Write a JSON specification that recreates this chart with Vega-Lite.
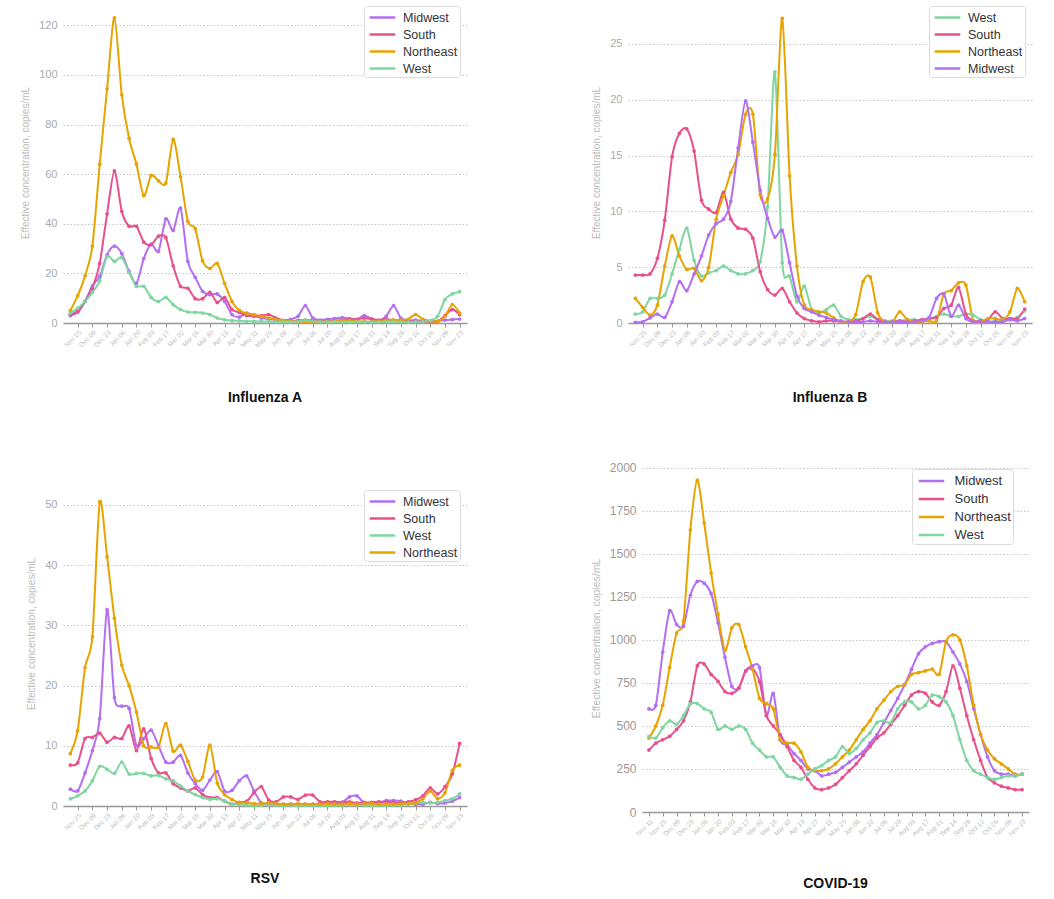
{
"$schema": "https://vega.github.io/schema/vega-lite/v6.json",
"background": "white",
"padding": {"left": 20, "top": 2, "right": 5, "bottom": 5},
"config": {"view": {"stroke": null}, "font": "Liberation Sans"},
"columns": 2,
"align": "none",
"spacing": {"row": 56, "column": 124},
"resolve": {"scale": {"color": "independent", "x": "independent", "y": "independent"}, "legend": {"color": "independent"}},
"datasets": {
"infA": [
{"date":"2023-11-18","region":"Midwest","value":3},{"date":"2023-11-25","region":"Midwest","value":4.3},{"date":"2023-12-02","region":"Midwest","value":8.7},{"date":"2023-12-09","region":"Midwest","value":15},{"date":"2023-12-16","region":"Midwest","value":18.8},{"date":"2023-12-23","region":"Midwest","value":27.5},{"date":"2023-12-30","region":"Midwest","value":31},{"date":"2024-01-06","region":"Midwest","value":28},{"date":"2024-01-13","region":"Midwest","value":20.8},{"date":"2024-01-20","region":"Midwest","value":16},{"date":"2024-01-27","region":"Midwest","value":26},{"date":"2024-02-03","region":"Midwest","value":31.8},{"date":"2024-02-10","region":"Midwest","value":28.9},{"date":"2024-02-17","region":"Midwest","value":42},{"date":"2024-02-24","region":"Midwest","value":37.3},{"date":"2024-03-02","region":"Midwest","value":46.3},{"date":"2024-03-09","region":"Midwest","value":24.8},{"date":"2024-03-16","region":"Midwest","value":18.4},{"date":"2024-03-23","region":"Midwest","value":12.8},{"date":"2024-03-30","region":"Midwest","value":11.4},{"date":"2024-04-06","region":"Midwest","value":11.7},{"date":"2024-04-13","region":"Midwest","value":8.7},{"date":"2024-04-20","region":"Midwest","value":3.4},{"date":"2024-04-27","region":"Midwest","value":2.4},{"date":"2024-05-04","region":"Midwest","value":4},{"date":"2024-05-11","region":"Midwest","value":3},{"date":"2024-05-18","region":"Midwest","value":2},{"date":"2024-05-25","region":"Midwest","value":1.6},{"date":"2024-06-01","region":"Midwest","value":1.2},{"date":"2024-06-08","region":"Midwest","value":1.0},{"date":"2024-06-15","region":"Midwest","value":1.5},{"date":"2024-06-22","region":"Midwest","value":2.7},{"date":"2024-06-29","region":"Midwest","value":7},{"date":"2024-07-06","region":"Midwest","value":2},{"date":"2024-07-13","region":"Midwest","value":1.2},{"date":"2024-07-20","region":"Midwest","value":1.5},{"date":"2024-07-27","region":"Midwest","value":1.8},{"date":"2024-08-03","region":"Midwest","value":2.2},{"date":"2024-08-10","region":"Midwest","value":1.8},{"date":"2024-08-17","region":"Midwest","value":1.5},{"date":"2024-08-24","region":"Midwest","value":3},{"date":"2024-08-31","region":"Midwest","value":1.8},{"date":"2024-09-07","region":"Midwest","value":1},{"date":"2024-09-14","region":"Midwest","value":2.7},{"date":"2024-09-21","region":"Midwest","value":7},{"date":"2024-09-28","region":"Midwest","value":2},{"date":"2024-10-05","region":"Midwest","value":1},{"date":"2024-10-12","region":"Midwest","value":1.2},{"date":"2024-10-19","region":"Midwest","value":0.8},{"date":"2024-10-26","region":"Midwest","value":0.6},{"date":"2024-11-02","region":"Midwest","value":0.8},{"date":"2024-11-09","region":"Midwest","value":1.2},{"date":"2024-11-16","region":"Midwest","value":1.4},{"date":"2024-11-23","region":"Midwest","value":1.6},
{"date":"2023-11-18","region":"South","value":3.4},{"date":"2023-11-25","region":"South","value":4.7},{"date":"2023-12-02","region":"South","value":8.7},{"date":"2023-12-09","region":"South","value":14},{"date":"2023-12-16","region":"South","value":24},{"date":"2023-12-23","region":"South","value":44},{"date":"2023-12-30","region":"South","value":61.3},{"date":"2024-01-06","region":"South","value":45},{"date":"2024-01-13","region":"South","value":39},{"date":"2024-01-20","region":"South","value":39},{"date":"2024-01-27","region":"South","value":32.6},{"date":"2024-02-03","region":"South","value":31.5},{"date":"2024-02-10","region":"South","value":35},{"date":"2024-02-17","region":"South","value":34.5},{"date":"2024-02-24","region":"South","value":23},{"date":"2024-03-02","region":"South","value":14.8},{"date":"2024-03-09","region":"South","value":14},{"date":"2024-03-16","region":"South","value":9.8},{"date":"2024-03-23","region":"South","value":9.8},{"date":"2024-03-30","region":"South","value":12.3},{"date":"2024-04-06","region":"South","value":8.3},{"date":"2024-04-13","region":"South","value":10.3},{"date":"2024-04-20","region":"South","value":5.4},{"date":"2024-04-27","region":"South","value":4.3},{"date":"2024-05-04","region":"South","value":3},{"date":"2024-05-11","region":"South","value":2.7},{"date":"2024-05-18","region":"South","value":3},{"date":"2024-05-25","region":"South","value":3.4},{"date":"2024-06-01","region":"South","value":2},{"date":"2024-06-08","region":"South","value":1},{"date":"2024-06-15","region":"South","value":0.8},{"date":"2024-06-22","region":"South","value":1},{"date":"2024-06-29","region":"South","value":1.2},{"date":"2024-07-06","region":"South","value":1},{"date":"2024-07-13","region":"South","value":0.8},{"date":"2024-07-20","region":"South","value":0.8},{"date":"2024-07-27","region":"South","value":1},{"date":"2024-08-03","region":"South","value":1.2},{"date":"2024-08-10","region":"South","value":1.5},{"date":"2024-08-17","region":"South","value":1.5},{"date":"2024-08-24","region":"South","value":2},{"date":"2024-08-31","region":"South","value":1.5},{"date":"2024-09-07","region":"South","value":1.2},{"date":"2024-09-14","region":"South","value":1.5},{"date":"2024-09-21","region":"South","value":1.2},{"date":"2024-09-28","region":"South","value":1},{"date":"2024-10-05","region":"South","value":0.8},{"date":"2024-10-12","region":"South","value":0.6},{"date":"2024-10-19","region":"South","value":0.6},{"date":"2024-10-26","region":"South","value":0.5},{"date":"2024-11-02","region":"South","value":0.6},{"date":"2024-11-09","region":"South","value":3},{"date":"2024-11-16","region":"South","value":5.4},{"date":"2024-11-23","region":"South","value":3.4},
{"date":"2023-11-18","region":"Northeast","value":5},{"date":"2023-11-25","region":"Northeast","value":11},{"date":"2023-12-02","region":"Northeast","value":19},{"date":"2023-12-09","region":"Northeast","value":31},{"date":"2023-12-16","region":"Northeast","value":64},{"date":"2023-12-23","region":"Northeast","value":94.4},{"date":"2023-12-30","region":"Northeast","value":123},{"date":"2024-01-06","region":"Northeast","value":92},{"date":"2024-01-13","region":"Northeast","value":74.4},{"date":"2024-01-20","region":"Northeast","value":64},{"date":"2024-01-27","region":"Northeast","value":51.3},{"date":"2024-02-03","region":"Northeast","value":59.5},{"date":"2024-02-10","region":"Northeast","value":57.3},{"date":"2024-02-17","region":"Northeast","value":56.4},{"date":"2024-02-24","region":"Northeast","value":74},{"date":"2024-03-02","region":"Northeast","value":59},{"date":"2024-03-09","region":"Northeast","value":41},{"date":"2024-03-16","region":"Northeast","value":38},{"date":"2024-03-23","region":"Northeast","value":25},{"date":"2024-03-30","region":"Northeast","value":22},{"date":"2024-04-06","region":"Northeast","value":24},{"date":"2024-04-13","region":"Northeast","value":16},{"date":"2024-04-20","region":"Northeast","value":8.7},{"date":"2024-04-27","region":"Northeast","value":5.1},{"date":"2024-05-04","region":"Northeast","value":3.8},{"date":"2024-05-11","region":"Northeast","value":3.4},{"date":"2024-05-18","region":"Northeast","value":2.7},{"date":"2024-05-25","region":"Northeast","value":2},{"date":"2024-06-01","region":"Northeast","value":1.5},{"date":"2024-06-08","region":"Northeast","value":1},{"date":"2024-06-15","region":"Northeast","value":0.8},{"date":"2024-06-22","region":"Northeast","value":0.6},{"date":"2024-06-29","region":"Northeast","value":0.5},{"date":"2024-07-06","region":"Northeast","value":0.5},{"date":"2024-07-13","region":"Northeast","value":0.5},{"date":"2024-07-20","region":"Northeast","value":0.6},{"date":"2024-07-27","region":"Northeast","value":0.8},{"date":"2024-08-03","region":"Northeast","value":1},{"date":"2024-08-10","region":"Northeast","value":1},{"date":"2024-08-17","region":"Northeast","value":0.8},{"date":"2024-08-24","region":"Northeast","value":0.6},{"date":"2024-08-31","region":"Northeast","value":0.5},{"date":"2024-09-07","region":"Northeast","value":0.8},{"date":"2024-09-14","region":"Northeast","value":1},{"date":"2024-09-21","region":"Northeast","value":1.2},{"date":"2024-09-28","region":"Northeast","value":1.2},{"date":"2024-10-05","region":"Northeast","value":1.5},{"date":"2024-10-12","region":"Northeast","value":3.4},{"date":"2024-10-19","region":"Northeast","value":1.5},{"date":"2024-10-26","region":"Northeast","value":0.8},{"date":"2024-11-02","region":"Northeast","value":0.6},{"date":"2024-11-09","region":"Northeast","value":2.7},{"date":"2024-11-16","region":"Northeast","value":7.4},{"date":"2024-11-23","region":"Northeast","value":4},
{"date":"2023-11-18","region":"West","value":4},{"date":"2023-11-25","region":"West","value":6},{"date":"2023-12-02","region":"West","value":8.7},{"date":"2023-12-09","region":"West","value":12.3},{"date":"2023-12-16","region":"West","value":17},{"date":"2023-12-23","region":"West","value":26.8},{"date":"2023-12-30","region":"West","value":24.8},{"date":"2024-01-06","region":"West","value":26.4},{"date":"2024-01-13","region":"West","value":20.4},{"date":"2024-01-20","region":"West","value":14.8},{"date":"2024-01-27","region":"West","value":14.8},{"date":"2024-02-03","region":"West","value":10.3},{"date":"2024-02-10","region":"West","value":8.7},{"date":"2024-02-17","region":"West","value":10.3},{"date":"2024-02-24","region":"West","value":7.4},{"date":"2024-03-02","region":"West","value":5.4},{"date":"2024-03-09","region":"West","value":4.4},{"date":"2024-03-16","region":"West","value":4.3},{"date":"2024-03-23","region":"West","value":4},{"date":"2024-03-30","region":"West","value":3.4},{"date":"2024-04-06","region":"West","value":2},{"date":"2024-04-13","region":"West","value":1.3},{"date":"2024-04-20","region":"West","value":1},{"date":"2024-04-27","region":"West","value":0.9},{"date":"2024-05-04","region":"West","value":0.7},{"date":"2024-05-11","region":"West","value":0.7},{"date":"2024-05-18","region":"West","value":0.6},{"date":"2024-05-25","region":"West","value":0.6},{"date":"2024-06-01","region":"West","value":0.5},{"date":"2024-06-08","region":"West","value":0.5},{"date":"2024-06-15","region":"West","value":0.5},{"date":"2024-06-22","region":"West","value":0.6},{"date":"2024-06-29","region":"West","value":1.2},{"date":"2024-07-06","region":"West","value":0.8},{"date":"2024-07-13","region":"West","value":0.5},{"date":"2024-07-20","region":"West","value":0.5},{"date":"2024-07-27","region":"West","value":0.5},{"date":"2024-08-03","region":"West","value":0.4},{"date":"2024-08-10","region":"West","value":0.4},{"date":"2024-08-17","region":"West","value":0.5},{"date":"2024-08-24","region":"West","value":0.5},{"date":"2024-08-31","region":"West","value":0.4},{"date":"2024-09-07","region":"West","value":0.4},{"date":"2024-09-14","region":"West","value":0.5},{"date":"2024-09-21","region":"West","value":0.5},{"date":"2024-09-28","region":"West","value":0.4},{"date":"2024-10-05","region":"West","value":0.4},{"date":"2024-10-12","region":"West","value":0.5},{"date":"2024-10-19","region":"West","value":0.5},{"date":"2024-10-26","region":"West","value":1},{"date":"2024-11-02","region":"West","value":2.7},{"date":"2024-11-09","region":"West","value":9.4},{"date":"2024-11-16","region":"West","value":11.7},{"date":"2024-11-23","region":"West","value":12.6}
],
"infB": [
{"date":"2023-11-18","region":"West","value":0.8},{"date":"2023-11-25","region":"West","value":1.0},{"date":"2023-12-02","region":"West","value":2.2},{"date":"2023-12-09","region":"West","value":2.2},{"date":"2023-12-16","region":"West","value":2.5},{"date":"2023-12-23","region":"West","value":4.4},{"date":"2023-12-30","region":"West","value":6.6},{"date":"2024-01-06","region":"West","value":8.5},{"date":"2024-01-13","region":"West","value":5.6},{"date":"2024-01-20","region":"West","value":4.2},{"date":"2024-01-27","region":"West","value":4.5},{"date":"2024-02-03","region":"West","value":4.7},{"date":"2024-02-10","region":"West","value":5.1},{"date":"2024-02-17","region":"West","value":4.7},{"date":"2024-02-24","region":"West","value":4.4},{"date":"2024-03-02","region":"West","value":4.4},{"date":"2024-03-09","region":"West","value":4.7},{"date":"2024-03-16","region":"West","value":5.5},{"date":"2024-03-23","region":"West","value":10.4},{"date":"2024-03-30","region":"West","value":22.5},{"date":"2024-04-06","region":"West","value":5.4},{"date":"2024-04-13","region":"West","value":4.2},{"date":"2024-04-20","region":"West","value":1.9},{"date":"2024-04-27","region":"West","value":3.3},{"date":"2024-05-04","region":"West","value":1.2},{"date":"2024-05-11","region":"West","value":0.9},{"date":"2024-05-18","region":"West","value":1.2},{"date":"2024-05-25","region":"West","value":1.6},{"date":"2024-06-01","region":"West","value":0.6},{"date":"2024-06-08","region":"West","value":0.3},{"date":"2024-06-15","region":"West","value":0.3},{"date":"2024-06-22","region":"West","value":0.4},{"date":"2024-06-29","region":"West","value":0.6},{"date":"2024-07-06","region":"West","value":0.3},{"date":"2024-07-13","region":"West","value":0.2},{"date":"2024-07-20","region":"West","value":0.2},{"date":"2024-07-27","region":"West","value":0.2},{"date":"2024-08-03","region":"West","value":0.3},{"date":"2024-08-10","region":"West","value":0.3},{"date":"2024-08-17","region":"West","value":0.2},{"date":"2024-08-24","region":"West","value":0.4},{"date":"2024-08-31","region":"West","value":0.6},{"date":"2024-09-07","region":"West","value":0.8},{"date":"2024-09-14","region":"West","value":0.6},{"date":"2024-09-21","region":"West","value":0.6},{"date":"2024-09-28","region":"West","value":0.8},{"date":"2024-10-05","region":"West","value":0.7},{"date":"2024-10-12","region":"West","value":0.3},{"date":"2024-10-19","region":"West","value":0.1},{"date":"2024-10-26","region":"West","value":0.2},{"date":"2024-11-02","region":"West","value":0.3},{"date":"2024-11-09","region":"West","value":0.4},{"date":"2024-11-16","region":"West","value":0.5},{"date":"2024-11-23","region":"West","value":1.1},
{"date":"2023-11-18","region":"South","value":4.3},{"date":"2023-11-25","region":"South","value":4.3},{"date":"2023-12-02","region":"South","value":4.4},{"date":"2023-12-09","region":"South","value":5.8},{"date":"2023-12-16","region":"South","value":9.2},{"date":"2023-12-23","region":"South","value":14.9},{"date":"2023-12-30","region":"South","value":17},{"date":"2024-01-06","region":"South","value":17.4},{"date":"2024-01-13","region":"South","value":15.4},{"date":"2024-01-20","region":"South","value":11},{"date":"2024-01-27","region":"South","value":10.2},{"date":"2024-02-03","region":"South","value":9.9},{"date":"2024-02-10","region":"South","value":11.7},{"date":"2024-02-17","region":"South","value":9.3},{"date":"2024-02-24","region":"South","value":8.5},{"date":"2024-03-02","region":"South","value":8.4},{"date":"2024-03-09","region":"South","value":7.6},{"date":"2024-03-16","region":"South","value":4.6},{"date":"2024-03-23","region":"South","value":3},{"date":"2024-03-30","region":"South","value":2.5},{"date":"2024-04-06","region":"South","value":3.1},{"date":"2024-04-13","region":"South","value":1.9},{"date":"2024-04-20","region":"South","value":0.9},{"date":"2024-04-27","region":"South","value":0.4},{"date":"2024-05-04","region":"South","value":0.2},{"date":"2024-05-11","region":"South","value":0.1},{"date":"2024-05-18","region":"South","value":0.2},{"date":"2024-05-25","region":"South","value":0.2},{"date":"2024-06-01","region":"South","value":0.1},{"date":"2024-06-08","region":"South","value":0.1},{"date":"2024-06-15","region":"South","value":0.2},{"date":"2024-06-22","region":"South","value":0.4},{"date":"2024-06-29","region":"South","value":0.8},{"date":"2024-07-06","region":"South","value":0.3},{"date":"2024-07-13","region":"South","value":0.1},{"date":"2024-07-20","region":"South","value":0.1},{"date":"2024-07-27","region":"South","value":0.2},{"date":"2024-08-03","region":"South","value":0.1},{"date":"2024-08-10","region":"South","value":0.2},{"date":"2024-08-17","region":"South","value":0.3},{"date":"2024-08-24","region":"South","value":0.4},{"date":"2024-08-31","region":"South","value":0.5},{"date":"2024-09-07","region":"South","value":1.3},{"date":"2024-09-14","region":"South","value":1.6},{"date":"2024-09-21","region":"South","value":3.2},{"date":"2024-09-28","region":"South","value":0.8},{"date":"2024-10-05","region":"South","value":0.2},{"date":"2024-10-12","region":"South","value":0.2},{"date":"2024-10-19","region":"South","value":0.3},{"date":"2024-10-26","region":"South","value":1.0},{"date":"2024-11-02","region":"South","value":0.4},{"date":"2024-11-09","region":"South","value":0.4},{"date":"2024-11-16","region":"South","value":0.4},{"date":"2024-11-23","region":"South","value":1.25},
{"date":"2023-11-18","region":"Northeast","value":2.2},{"date":"2023-11-25","region":"Northeast","value":1.4},{"date":"2023-12-02","region":"Northeast","value":0.7},{"date":"2023-12-09","region":"Northeast","value":1.6},{"date":"2023-12-16","region":"Northeast","value":5.1},{"date":"2023-12-23","region":"Northeast","value":7.8},{"date":"2023-12-30","region":"Northeast","value":6},{"date":"2024-01-06","region":"Northeast","value":4.8},{"date":"2024-01-13","region":"Northeast","value":4.9},{"date":"2024-01-20","region":"Northeast","value":3.8},{"date":"2024-01-27","region":"Northeast","value":5},{"date":"2024-02-03","region":"Northeast","value":9.3},{"date":"2024-02-10","region":"Northeast","value":11.4},{"date":"2024-02-17","region":"Northeast","value":13.5},{"date":"2024-02-24","region":"Northeast","value":15.1},{"date":"2024-03-02","region":"Northeast","value":18.7},{"date":"2024-03-09","region":"Northeast","value":18.7},{"date":"2024-03-16","region":"Northeast","value":11.5},{"date":"2024-03-23","region":"Northeast","value":11.1},{"date":"2024-03-30","region":"Northeast","value":15.1},{"date":"2024-04-06","region":"Northeast","value":27.3},{"date":"2024-04-13","region":"Northeast","value":13.2},{"date":"2024-04-20","region":"Northeast","value":5.1},{"date":"2024-04-27","region":"Northeast","value":1.6},{"date":"2024-05-04","region":"Northeast","value":1.2},{"date":"2024-05-11","region":"Northeast","value":1.0},{"date":"2024-05-18","region":"Northeast","value":0.9},{"date":"2024-05-25","region":"Northeast","value":0.45},{"date":"2024-06-01","region":"Northeast","value":0.1},{"date":"2024-06-08","region":"Northeast","value":0.1},{"date":"2024-06-15","region":"Northeast","value":0.75},{"date":"2024-06-22","region":"Northeast","value":3.7},{"date":"2024-06-29","region":"Northeast","value":4.1},{"date":"2024-07-06","region":"Northeast","value":0.9},{"date":"2024-07-13","region":"Northeast","value":0.1},{"date":"2024-07-20","region":"Northeast","value":0.1},{"date":"2024-07-27","region":"Northeast","value":1.0},{"date":"2024-08-03","region":"Northeast","value":0.3},{"date":"2024-08-10","region":"Northeast","value":0.1},{"date":"2024-08-17","region":"Northeast","value":0.1},{"date":"2024-08-24","region":"Northeast","value":0.2},{"date":"2024-08-31","region":"Northeast","value":0.2},{"date":"2024-09-07","region":"Northeast","value":2.6},{"date":"2024-09-14","region":"Northeast","value":2.9},{"date":"2024-09-21","region":"Northeast","value":3.6},{"date":"2024-09-28","region":"Northeast","value":3.4},{"date":"2024-10-05","region":"Northeast","value":0.2},{"date":"2024-10-12","region":"Northeast","value":0.1},{"date":"2024-10-19","region":"Northeast","value":0.4},{"date":"2024-10-26","region":"Northeast","value":0.4},{"date":"2024-11-02","region":"Northeast","value":0.3},{"date":"2024-11-09","region":"Northeast","value":1.0},{"date":"2024-11-16","region":"Northeast","value":3.1},{"date":"2024-11-23","region":"Northeast","value":1.9},
{"date":"2023-11-18","region":"Midwest","value":0.06},{"date":"2023-11-25","region":"Midwest","value":0.1},{"date":"2023-12-02","region":"Midwest","value":0.45},{"date":"2023-12-09","region":"Midwest","value":0.8},{"date":"2023-12-16","region":"Midwest","value":0.5},{"date":"2023-12-23","region":"Midwest","value":1.9},{"date":"2023-12-30","region":"Midwest","value":3.7},{"date":"2024-01-06","region":"Midwest","value":2.9},{"date":"2024-01-13","region":"Midwest","value":4.4},{"date":"2024-01-20","region":"Midwest","value":6},{"date":"2024-01-27","region":"Midwest","value":7.9},{"date":"2024-02-03","region":"Midwest","value":8.9},{"date":"2024-02-10","region":"Midwest","value":9.3},{"date":"2024-02-17","region":"Midwest","value":10.9},{"date":"2024-02-24","region":"Midwest","value":15.7},{"date":"2024-03-02","region":"Midwest","value":19.9},{"date":"2024-03-09","region":"Midwest","value":16.2},{"date":"2024-03-16","region":"Midwest","value":11.9},{"date":"2024-03-23","region":"Midwest","value":9.4},{"date":"2024-03-30","region":"Midwest","value":7.7},{"date":"2024-04-06","region":"Midwest","value":8.3},{"date":"2024-04-13","region":"Midwest","value":5.4},{"date":"2024-04-20","region":"Midwest","value":2.4},{"date":"2024-04-27","region":"Midwest","value":1.3},{"date":"2024-05-04","region":"Midwest","value":1.0},{"date":"2024-05-11","region":"Midwest","value":0.7},{"date":"2024-05-18","region":"Midwest","value":0.5},{"date":"2024-05-25","region":"Midwest","value":0.3},{"date":"2024-06-01","region":"Midwest","value":0.2},{"date":"2024-06-08","region":"Midwest","value":0.1},{"date":"2024-06-15","region":"Midwest","value":0.1},{"date":"2024-06-22","region":"Midwest","value":0.1},{"date":"2024-06-29","region":"Midwest","value":0.2},{"date":"2024-07-06","region":"Midwest","value":0.1},{"date":"2024-07-13","region":"Midwest","value":0.1},{"date":"2024-07-20","region":"Midwest","value":0.1},{"date":"2024-07-27","region":"Midwest","value":0.1},{"date":"2024-08-03","region":"Midwest","value":0.1},{"date":"2024-08-10","region":"Midwest","value":0.1},{"date":"2024-08-17","region":"Midwest","value":0.2},{"date":"2024-08-24","region":"Midwest","value":0.5},{"date":"2024-08-31","region":"Midwest","value":2.2},{"date":"2024-09-07","region":"Midwest","value":2.6},{"date":"2024-09-14","region":"Midwest","value":0.6},{"date":"2024-09-21","region":"Midwest","value":1.6},{"date":"2024-09-28","region":"Midwest","value":0.4},{"date":"2024-10-05","region":"Midwest","value":0.1},{"date":"2024-10-12","region":"Midwest","value":0.1},{"date":"2024-10-19","region":"Midwest","value":0.1},{"date":"2024-10-26","region":"Midwest","value":0.1},{"date":"2024-11-02","region":"Midwest","value":0.1},{"date":"2024-11-09","region":"Midwest","value":0.3},{"date":"2024-11-16","region":"Midwest","value":0.2},{"date":"2024-11-23","region":"Midwest","value":0.4}
],
"rsv": [
{"date":"2023-11-18","region":"Midwest","value":2.8},{"date":"2023-11-25","region":"Midwest","value":2.5},{"date":"2023-12-02","region":"Midwest","value":5.5},{"date":"2023-12-09","region":"Midwest","value":9.2},{"date":"2023-12-16","region":"Midwest","value":14.5},{"date":"2023-12-23","region":"Midwest","value":32.6},{"date":"2023-12-30","region":"Midwest","value":18},{"date":"2024-01-06","region":"Midwest","value":16.6},{"date":"2024-01-13","region":"Midwest","value":16.2},{"date":"2024-01-20","region":"Midwest","value":10},{"date":"2024-01-27","region":"Midwest","value":11.2},{"date":"2024-02-03","region":"Midwest","value":12.6},{"date":"2024-02-10","region":"Midwest","value":10},{"date":"2024-02-17","region":"Midwest","value":7.3},{"date":"2024-02-24","region":"Midwest","value":7.3},{"date":"2024-03-02","region":"Midwest","value":8.4},{"date":"2024-03-09","region":"Midwest","value":5.5},{"date":"2024-03-16","region":"Midwest","value":3.7},{"date":"2024-03-23","region":"Midwest","value":2.6},{"date":"2024-03-30","region":"Midwest","value":4.3},{"date":"2024-04-06","region":"Midwest","value":5.7},{"date":"2024-04-13","region":"Midwest","value":2.5},{"date":"2024-04-20","region":"Midwest","value":2.6},{"date":"2024-04-27","region":"Midwest","value":4.2},{"date":"2024-05-04","region":"Midwest","value":5.0},{"date":"2024-05-11","region":"Midwest","value":2.5},{"date":"2024-05-18","region":"Midwest","value":0.5},{"date":"2024-05-25","region":"Midwest","value":0.3},{"date":"2024-06-01","region":"Midwest","value":0.3},{"date":"2024-06-08","region":"Midwest","value":0.3},{"date":"2024-06-15","region":"Midwest","value":0.3},{"date":"2024-06-22","region":"Midwest","value":0.3},{"date":"2024-06-29","region":"Midwest","value":0.3},{"date":"2024-07-06","region":"Midwest","value":0.3},{"date":"2024-07-13","region":"Midwest","value":0.4},{"date":"2024-07-20","region":"Midwest","value":0.4},{"date":"2024-07-27","region":"Midwest","value":0.5},{"date":"2024-08-03","region":"Midwest","value":0.6},{"date":"2024-08-10","region":"Midwest","value":1.5},{"date":"2024-08-17","region":"Midwest","value":1.7},{"date":"2024-08-24","region":"Midwest","value":0.5},{"date":"2024-08-31","region":"Midwest","value":0.4},{"date":"2024-09-07","region":"Midwest","value":0.5},{"date":"2024-09-14","region":"Midwest","value":0.9},{"date":"2024-09-21","region":"Midwest","value":0.9},{"date":"2024-09-28","region":"Midwest","value":0.8},{"date":"2024-10-05","region":"Midwest","value":0.4},{"date":"2024-10-12","region":"Midwest","value":0.3},{"date":"2024-10-19","region":"Midwest","value":0.3},{"date":"2024-10-26","region":"Midwest","value":0.6},{"date":"2024-11-02","region":"Midwest","value":0.4},{"date":"2024-11-09","region":"Midwest","value":0.5},{"date":"2024-11-16","region":"Midwest","value":0.8},{"date":"2024-11-23","region":"Midwest","value":1.4},
{"date":"2023-11-18","region":"South","value":6.8},{"date":"2023-11-25","region":"South","value":7.2},{"date":"2023-12-02","region":"South","value":11.2},{"date":"2023-12-09","region":"South","value":11.4},{"date":"2023-12-16","region":"South","value":12.1},{"date":"2023-12-23","region":"South","value":10.6},{"date":"2023-12-30","region":"South","value":11.4},{"date":"2024-01-06","region":"South","value":11.2},{"date":"2024-01-13","region":"South","value":13.3},{"date":"2024-01-20","region":"South","value":9.2},{"date":"2024-01-27","region":"South","value":12.8},{"date":"2024-02-03","region":"South","value":7.9},{"date":"2024-02-10","region":"South","value":5.5},{"date":"2024-02-17","region":"South","value":5.5},{"date":"2024-02-24","region":"South","value":3.7},{"date":"2024-03-02","region":"South","value":3.0},{"date":"2024-03-09","region":"South","value":2.5},{"date":"2024-03-16","region":"South","value":3.0},{"date":"2024-03-23","region":"South","value":1.9},{"date":"2024-03-30","region":"South","value":1.4},{"date":"2024-04-06","region":"South","value":1.4},{"date":"2024-04-13","region":"South","value":0.8},{"date":"2024-04-20","region":"South","value":0.3},{"date":"2024-04-27","region":"South","value":0.6},{"date":"2024-05-04","region":"South","value":0.8},{"date":"2024-05-11","region":"South","value":2.2},{"date":"2024-05-18","region":"South","value":3.2},{"date":"2024-05-25","region":"South","value":1.0},{"date":"2024-06-01","region":"South","value":0.7},{"date":"2024-06-08","region":"South","value":1.5},{"date":"2024-06-15","region":"South","value":1.5},{"date":"2024-06-22","region":"South","value":1.1},{"date":"2024-06-29","region":"South","value":1.8},{"date":"2024-07-06","region":"South","value":1.8},{"date":"2024-07-13","region":"South","value":0.7},{"date":"2024-07-20","region":"South","value":0.7},{"date":"2024-07-27","region":"South","value":0.7},{"date":"2024-08-03","region":"South","value":0.6},{"date":"2024-08-10","region":"South","value":0.7},{"date":"2024-08-17","region":"South","value":0.5},{"date":"2024-08-24","region":"South","value":0.6},{"date":"2024-08-31","region":"South","value":0.6},{"date":"2024-09-07","region":"South","value":0.7},{"date":"2024-09-14","region":"South","value":0.7},{"date":"2024-09-21","region":"South","value":0.6},{"date":"2024-09-28","region":"South","value":0.5},{"date":"2024-10-05","region":"South","value":0.7},{"date":"2024-10-12","region":"South","value":1.0},{"date":"2024-10-19","region":"South","value":1.7},{"date":"2024-10-26","region":"South","value":3.0},{"date":"2024-11-02","region":"South","value":2.0},{"date":"2024-11-09","region":"South","value":3.2},{"date":"2024-11-16","region":"South","value":5.3},{"date":"2024-11-23","region":"South","value":10.4},
{"date":"2023-11-18","region":"West","value":1.2},{"date":"2023-11-25","region":"West","value":1.7},{"date":"2023-12-02","region":"West","value":2.5},{"date":"2023-12-09","region":"West","value":4.2},{"date":"2023-12-16","region":"West","value":6.6},{"date":"2023-12-23","region":"West","value":6.1},{"date":"2023-12-30","region":"West","value":5.4},{"date":"2024-01-06","region":"West","value":7.3},{"date":"2024-01-13","region":"West","value":5.3},{"date":"2024-01-20","region":"West","value":5.4},{"date":"2024-01-27","region":"West","value":5.4},{"date":"2024-02-03","region":"West","value":5.0},{"date":"2024-02-10","region":"West","value":5.1},{"date":"2024-02-17","region":"West","value":4.5},{"date":"2024-02-24","region":"West","value":4.2},{"date":"2024-03-02","region":"West","value":3.3},{"date":"2024-03-09","region":"West","value":2.5},{"date":"2024-03-16","region":"West","value":1.9},{"date":"2024-03-23","region":"West","value":1.4},{"date":"2024-03-30","region":"West","value":1.1},{"date":"2024-04-06","region":"West","value":1.2},{"date":"2024-04-13","region":"West","value":0.8},{"date":"2024-04-20","region":"West","value":0.3},{"date":"2024-04-27","region":"West","value":0.3},{"date":"2024-05-04","region":"West","value":0.1},{"date":"2024-05-11","region":"West","value":0.1},{"date":"2024-05-18","region":"West","value":0.1},{"date":"2024-05-25","region":"West","value":0.2},{"date":"2024-06-01","region":"West","value":0.1},{"date":"2024-06-08","region":"West","value":0.1},{"date":"2024-06-15","region":"West","value":0.1},{"date":"2024-06-22","region":"West","value":0.1},{"date":"2024-06-29","region":"West","value":0.1},{"date":"2024-07-06","region":"West","value":0.1},{"date":"2024-07-13","region":"West","value":0.1},{"date":"2024-07-20","region":"West","value":0.1},{"date":"2024-07-27","region":"West","value":0.1},{"date":"2024-08-03","region":"West","value":0.1},{"date":"2024-08-10","region":"West","value":0.2},{"date":"2024-08-17","region":"West","value":0.2},{"date":"2024-08-24","region":"West","value":0.1},{"date":"2024-08-31","region":"West","value":0.1},{"date":"2024-09-07","region":"West","value":0.1},{"date":"2024-09-14","region":"West","value":0.1},{"date":"2024-09-21","region":"West","value":0.1},{"date":"2024-09-28","region":"West","value":0.2},{"date":"2024-10-05","region":"West","value":0.3},{"date":"2024-10-12","region":"West","value":0.5},{"date":"2024-10-19","region":"West","value":0.6},{"date":"2024-10-26","region":"West","value":0.5},{"date":"2024-11-02","region":"West","value":0.6},{"date":"2024-11-09","region":"West","value":0.9},{"date":"2024-11-16","region":"West","value":1.2},{"date":"2024-11-23","region":"West","value":2.0},
{"date":"2023-11-18","region":"Northeast","value":8.7},{"date":"2023-11-25","region":"Northeast","value":12.5},{"date":"2023-12-02","region":"Northeast","value":23},{"date":"2023-12-09","region":"Northeast","value":28.1},{"date":"2023-12-16","region":"Northeast","value":50.5},{"date":"2023-12-23","region":"Northeast","value":41.4},{"date":"2023-12-30","region":"Northeast","value":31.2},{"date":"2024-01-06","region":"Northeast","value":23.4},{"date":"2024-01-13","region":"Northeast","value":20},{"date":"2024-01-20","region":"Northeast","value":15.6},{"date":"2024-01-27","region":"Northeast","value":10},{"date":"2024-02-03","region":"Northeast","value":9.8},{"date":"2024-02-10","region":"Northeast","value":9.8},{"date":"2024-02-17","region":"Northeast","value":13.7},{"date":"2024-02-24","region":"Northeast","value":9.1},{"date":"2024-03-02","region":"Northeast","value":10.1},{"date":"2024-03-09","region":"Northeast","value":7.4},{"date":"2024-03-16","region":"Northeast","value":4.3},{"date":"2024-03-23","region":"Northeast","value":4.8},{"date":"2024-03-30","region":"Northeast","value":10.1},{"date":"2024-04-06","region":"Northeast","value":3.8},{"date":"2024-04-13","region":"Northeast","value":1.9},{"date":"2024-04-20","region":"Northeast","value":1.1},{"date":"2024-04-27","region":"Northeast","value":0.55},{"date":"2024-05-04","region":"Northeast","value":0.55},{"date":"2024-05-11","region":"Northeast","value":0.4},{"date":"2024-05-18","region":"Northeast","value":0.4},{"date":"2024-05-25","region":"Northeast","value":0.5},{"date":"2024-06-01","region":"Northeast","value":0.4},{"date":"2024-06-08","region":"Northeast","value":0.3},{"date":"2024-06-15","region":"Northeast","value":0.3},{"date":"2024-06-22","region":"Northeast","value":0.4},{"date":"2024-06-29","region":"Northeast","value":0.3},{"date":"2024-07-06","region":"Northeast","value":0.3},{"date":"2024-07-13","region":"Northeast","value":0.3},{"date":"2024-07-20","region":"Northeast","value":0.4},{"date":"2024-07-27","region":"Northeast","value":0.3},{"date":"2024-08-03","region":"Northeast","value":0.3},{"date":"2024-08-10","region":"Northeast","value":0.4},{"date":"2024-08-17","region":"Northeast","value":0.3},{"date":"2024-08-24","region":"Northeast","value":0.4},{"date":"2024-08-31","region":"Northeast","value":0.4},{"date":"2024-09-07","region":"Northeast","value":0.3},{"date":"2024-09-14","region":"Northeast","value":0.3},{"date":"2024-09-21","region":"Northeast","value":0.3},{"date":"2024-09-28","region":"Northeast","value":0.4},{"date":"2024-10-05","region":"Northeast","value":0.4},{"date":"2024-10-12","region":"Northeast","value":0.5},{"date":"2024-10-19","region":"Northeast","value":1.2},{"date":"2024-10-26","region":"Northeast","value":2.5},{"date":"2024-11-02","region":"Northeast","value":1.2},{"date":"2024-11-09","region":"Northeast","value":2.2},{"date":"2024-11-16","region":"Northeast","value":5.9},{"date":"2024-11-23","region":"Northeast","value":6.8}
],
"covid": [
{"date":"2023-11-11","region":"Midwest","value":600},{"date":"2023-11-18","region":"Midwest","value":620},{"date":"2023-11-25","region":"Midwest","value":930},{"date":"2023-12-02","region":"Midwest","value":1170},{"date":"2023-12-09","region":"Midwest","value":1090},{"date":"2023-12-16","region":"Midwest","value":1080},{"date":"2023-12-23","region":"Midwest","value":1260},{"date":"2023-12-30","region":"Midwest","value":1340},{"date":"2024-01-06","region":"Midwest","value":1330},{"date":"2024-01-13","region":"Midwest","value":1270},{"date":"2024-01-20","region":"Midwest","value":1100},{"date":"2024-01-27","region":"Midwest","value":900},{"date":"2024-02-03","region":"Midwest","value":730},{"date":"2024-02-10","region":"Midwest","value":720},{"date":"2024-02-17","region":"Midwest","value":820},{"date":"2024-02-24","region":"Midwest","value":850},{"date":"2024-03-02","region":"Midwest","value":840},{"date":"2024-03-09","region":"Midwest","value":560},{"date":"2024-03-16","region":"Midwest","value":690},{"date":"2024-03-23","region":"Midwest","value":420},{"date":"2024-03-30","region":"Midwest","value":390},{"date":"2024-04-06","region":"Midwest","value":340},{"date":"2024-04-13","region":"Midwest","value":300},{"date":"2024-04-20","region":"Midwest","value":250},{"date":"2024-04-27","region":"Midwest","value":240},{"date":"2024-05-04","region":"Midwest","value":210},{"date":"2024-05-11","region":"Midwest","value":220},{"date":"2024-05-18","region":"Midwest","value":230},{"date":"2024-05-25","region":"Midwest","value":260},{"date":"2024-06-01","region":"Midwest","value":290},{"date":"2024-06-08","region":"Midwest","value":320},{"date":"2024-06-15","region":"Midwest","value":350},{"date":"2024-06-22","region":"Midwest","value":400},{"date":"2024-06-29","region":"Midwest","value":450},{"date":"2024-07-06","region":"Midwest","value":520},{"date":"2024-07-13","region":"Midwest","value":590},{"date":"2024-07-20","region":"Midwest","value":660},{"date":"2024-07-27","region":"Midwest","value":740},{"date":"2024-08-03","region":"Midwest","value":830},{"date":"2024-08-10","region":"Midwest","value":920},{"date":"2024-08-17","region":"Midwest","value":960},{"date":"2024-08-24","region":"Midwest","value":980},{"date":"2024-08-31","region":"Midwest","value":990},{"date":"2024-09-07","region":"Midwest","value":990},{"date":"2024-09-14","region":"Midwest","value":930},{"date":"2024-09-21","region":"Midwest","value":860},{"date":"2024-09-28","region":"Midwest","value":760},{"date":"2024-10-05","region":"Midwest","value":600},{"date":"2024-10-12","region":"Midwest","value":450},{"date":"2024-10-19","region":"Midwest","value":320},{"date":"2024-10-26","region":"Midwest","value":240},{"date":"2024-11-02","region":"Midwest","value":220},{"date":"2024-11-09","region":"Midwest","value":220},{"date":"2024-11-16","region":"Midwest","value":210},{"date":"2024-11-23","region":"Midwest","value":220},
{"date":"2023-11-11","region":"South","value":360},{"date":"2023-11-18","region":"South","value":400},{"date":"2023-11-25","region":"South","value":420},{"date":"2023-12-02","region":"South","value":440},{"date":"2023-12-09","region":"South","value":480},{"date":"2023-12-16","region":"South","value":530},{"date":"2023-12-23","region":"South","value":640},{"date":"2023-12-30","region":"South","value":850},{"date":"2024-01-06","region":"South","value":860},{"date":"2024-01-13","region":"South","value":800},{"date":"2024-01-20","region":"South","value":760},{"date":"2024-01-27","region":"South","value":700},{"date":"2024-02-03","region":"South","value":690},{"date":"2024-02-10","region":"South","value":720},{"date":"2024-02-17","region":"South","value":820},{"date":"2024-02-24","region":"South","value":830},{"date":"2024-03-02","region":"South","value":760},{"date":"2024-03-09","region":"South","value":560},{"date":"2024-03-16","region":"South","value":500},{"date":"2024-03-23","region":"South","value":450},{"date":"2024-03-30","region":"South","value":380},{"date":"2024-04-06","region":"South","value":300},{"date":"2024-04-13","region":"South","value":260},{"date":"2024-04-20","region":"South","value":190},{"date":"2024-04-27","region":"South","value":140},{"date":"2024-05-04","region":"South","value":130},{"date":"2024-05-11","region":"South","value":140},{"date":"2024-05-18","region":"South","value":160},{"date":"2024-05-25","region":"South","value":200},{"date":"2024-06-01","region":"South","value":240},{"date":"2024-06-08","region":"South","value":280},{"date":"2024-06-15","region":"South","value":330},{"date":"2024-06-22","region":"South","value":380},{"date":"2024-06-29","region":"South","value":430},{"date":"2024-07-06","region":"South","value":460},{"date":"2024-07-13","region":"South","value":510},{"date":"2024-07-20","region":"South","value":560},{"date":"2024-07-27","region":"South","value":620},{"date":"2024-08-03","region":"South","value":680},{"date":"2024-08-10","region":"South","value":700},{"date":"2024-08-17","region":"South","value":690},{"date":"2024-08-24","region":"South","value":640},{"date":"2024-08-31","region":"South","value":620},{"date":"2024-09-07","region":"South","value":700},{"date":"2024-09-14","region":"South","value":850},{"date":"2024-09-21","region":"South","value":720},{"date":"2024-09-28","region":"South","value":560},{"date":"2024-10-05","region":"South","value":420},{"date":"2024-10-12","region":"South","value":300},{"date":"2024-10-19","region":"South","value":200},{"date":"2024-10-26","region":"South","value":170},{"date":"2024-11-02","region":"South","value":150},{"date":"2024-11-09","region":"South","value":140},{"date":"2024-11-16","region":"South","value":130},{"date":"2024-11-23","region":"South","value":130},
{"date":"2023-11-11","region":"Northeast","value":430},{"date":"2023-11-18","region":"Northeast","value":500},{"date":"2023-11-25","region":"Northeast","value":620},{"date":"2023-12-02","region":"Northeast","value":840},{"date":"2023-12-09","region":"Northeast","value":1040},{"date":"2023-12-16","region":"Northeast","value":1110},{"date":"2023-12-23","region":"Northeast","value":1640},{"date":"2023-12-30","region":"Northeast","value":1930},{"date":"2024-01-06","region":"Northeast","value":1680},{"date":"2024-01-13","region":"Northeast","value":1390},{"date":"2024-01-20","region":"Northeast","value":1150},{"date":"2024-01-27","region":"Northeast","value":940},{"date":"2024-02-03","region":"Northeast","value":1070},{"date":"2024-02-10","region":"Northeast","value":1090},{"date":"2024-02-17","region":"Northeast","value":960},{"date":"2024-02-24","region":"Northeast","value":830},{"date":"2024-03-02","region":"Northeast","value":660},{"date":"2024-03-09","region":"Northeast","value":630},{"date":"2024-03-16","region":"Northeast","value":600},{"date":"2024-03-23","region":"Northeast","value":420},{"date":"2024-03-30","region":"Northeast","value":400},{"date":"2024-04-06","region":"Northeast","value":400},{"date":"2024-04-13","region":"Northeast","value":350},{"date":"2024-04-20","region":"Northeast","value":260},{"date":"2024-04-27","region":"Northeast","value":240},{"date":"2024-05-04","region":"Northeast","value":240},{"date":"2024-05-11","region":"Northeast","value":250},{"date":"2024-05-18","region":"Northeast","value":280},{"date":"2024-05-25","region":"Northeast","value":320},{"date":"2024-06-01","region":"Northeast","value":360},{"date":"2024-06-08","region":"Northeast","value":420},{"date":"2024-06-15","region":"Northeast","value":480},{"date":"2024-06-22","region":"Northeast","value":530},{"date":"2024-06-29","region":"Northeast","value":600},{"date":"2024-07-06","region":"Northeast","value":650},{"date":"2024-07-13","region":"Northeast","value":700},{"date":"2024-07-20","region":"Northeast","value":730},{"date":"2024-07-27","region":"Northeast","value":740},{"date":"2024-08-03","region":"Northeast","value":800},{"date":"2024-08-10","region":"Northeast","value":810},{"date":"2024-08-17","region":"Northeast","value":820},{"date":"2024-08-24","region":"Northeast","value":830},{"date":"2024-08-31","region":"Northeast","value":800},{"date":"2024-09-07","region":"Northeast","value":990},{"date":"2024-09-14","region":"Northeast","value":1030},{"date":"2024-09-21","region":"Northeast","value":1000},{"date":"2024-09-28","region":"Northeast","value":850},{"date":"2024-10-05","region":"Northeast","value":620},{"date":"2024-10-12","region":"Northeast","value":450},{"date":"2024-10-19","region":"Northeast","value":360},{"date":"2024-10-26","region":"Northeast","value":310},{"date":"2024-11-02","region":"Northeast","value":280},{"date":"2024-11-09","region":"Northeast","value":250},{"date":"2024-11-16","region":"Northeast","value":220},{"date":"2024-11-23","region":"Northeast","value":220},
{"date":"2023-11-11","region":"West","value":440},{"date":"2023-11-18","region":"West","value":430},{"date":"2023-11-25","region":"West","value":490},{"date":"2023-12-02","region":"West","value":530},{"date":"2023-12-09","region":"West","value":510},{"date":"2023-12-16","region":"West","value":560},{"date":"2023-12-23","region":"West","value":630},{"date":"2023-12-30","region":"West","value":630},{"date":"2024-01-06","region":"West","value":600},{"date":"2024-01-13","region":"West","value":580},{"date":"2024-01-20","region":"West","value":480},{"date":"2024-01-27","region":"West","value":500},{"date":"2024-02-03","region":"West","value":480},{"date":"2024-02-10","region":"West","value":500},{"date":"2024-02-17","region":"West","value":480},{"date":"2024-02-24","region":"West","value":400},{"date":"2024-03-02","region":"West","value":360},{"date":"2024-03-09","region":"West","value":320},{"date":"2024-03-16","region":"West","value":320},{"date":"2024-03-23","region":"West","value":260},{"date":"2024-03-30","region":"West","value":210},{"date":"2024-04-06","region":"West","value":200},{"date":"2024-04-13","region":"West","value":190},{"date":"2024-04-20","region":"West","value":220},{"date":"2024-04-27","region":"West","value":250},{"date":"2024-05-04","region":"West","value":270},{"date":"2024-05-11","region":"West","value":300},{"date":"2024-05-18","region":"West","value":320},{"date":"2024-05-25","region":"West","value":380},{"date":"2024-06-01","region":"West","value":340},{"date":"2024-06-08","region":"West","value":370},{"date":"2024-06-15","region":"West","value":420},{"date":"2024-06-22","region":"West","value":460},{"date":"2024-06-29","region":"West","value":520},{"date":"2024-07-06","region":"West","value":530},{"date":"2024-07-13","region":"West","value":520},{"date":"2024-07-20","region":"West","value":600},{"date":"2024-07-27","region":"West","value":640},{"date":"2024-08-03","region":"West","value":640},{"date":"2024-08-10","region":"West","value":600},{"date":"2024-08-17","region":"West","value":620},{"date":"2024-08-24","region":"West","value":680},{"date":"2024-08-31","region":"West","value":670},{"date":"2024-09-07","region":"West","value":640},{"date":"2024-09-14","region":"West","value":560},{"date":"2024-09-21","region":"West","value":420},{"date":"2024-09-28","region":"West","value":300},{"date":"2024-10-05","region":"West","value":240},{"date":"2024-10-12","region":"West","value":220},{"date":"2024-10-19","region":"West","value":200},{"date":"2024-10-26","region":"West","value":190},{"date":"2024-11-02","region":"West","value":200},{"date":"2024-11-09","region":"West","value":210},{"date":"2024-11-16","region":"West","value":210},{"date":"2024-11-23","region":"West","value":220}
]
},
"concat": [
{
"width": 404, "height": 321,
"data": {"name": "infA"},
"title": {"text": "Influenza A", "orient": "bottom", "offset": 42, "fontSize": 14, "fontWeight": "bold", "color": "#111"},
"mark": {"type": "line", "interpolate": "cardinal", "tension": 0.2, "strokeWidth": 2, "point": {"filled": true, "size": 14}},
"encoding": {
"x": {"field": "date", "type": "ordinal", "scale": {"type": "point", "padding": 2.5}, "axis": {"title": null, "grid": false, "labelAngle": -45, "labelFontSize": 6.5, "labelColor": "#bbb", "labelPadding": 2, "labelOverlap": false, "tickColor": "#999", "tickSize": 4, "domainColor": "#999", "domainWidth": 1.5, "labelExpr": "utcFormat(toDate(datum.value), '%b %d')", "values": ["2023-11-25","2023-12-09","2023-12-23","2024-01-06","2024-01-20","2024-02-03","2024-02-17","2024-03-02","2024-03-16","2024-03-30","2024-04-13","2024-04-27","2024-05-11","2024-05-25","2024-06-08","2024-06-22","2024-07-06","2024-07-20","2024-08-03","2024-08-17","2024-08-31","2024-09-14","2024-09-28","2024-10-12","2024-10-26","2024-11-09","2024-11-23"]}},
"y": {"field": "value", "type": "quantitative", "scale": {"domain": [0, 129.4], "nice": false}, "axis": {"values": [0,20,40,60,80,100,120], "domain": false, "ticks": false, "gridDash": [1.5,2], "gridColor": "#c4c4c4", "labelColor": "#aaa", "labelFontSize": 11, "labelPadding": 6, "title": "Effective concentration, copies/mL", "titleColor": "#bbb", "titleFontSize": 10, "titleFontWeight": "normal", "titlePadding": 8}},
"color": {"field": "region", "type": "nominal", "scale": {"domain": ["Midwest","South","Northeast","West"], "range": ["#b36ef2","#e8508c","#e6a400","#7fd6a1"]}, "legend": {"title": null, "orient": "none", "legendX": 301, "legendY": 4, "symbolType": "M-1.6,0H1.6", "symbolSize": 256, "symbolStrokeWidth": 2.5, "symbolOffset": 7, "labelOffset": 11, "labelFontSize": 12.5, "labelColor": "#333", "rowPadding": 1, "padding": 2, "fillColor": "white", "strokeColor": "#dcdcdc", "cornerRadius": 3}}
}
},
{
"width": 404, "height": 321,
"data": {"name": "infB"},
"title": {"text": "Influenza B", "orient": "bottom", "offset": 42, "fontSize": 14, "fontWeight": "bold", "color": "#111"},
"mark": {"type": "line", "interpolate": "cardinal", "tension": 0.2, "strokeWidth": 2, "point": {"filled": true, "size": 14}},
"encoding": {
"x": {"field": "date", "type": "ordinal", "scale": {"type": "point", "padding": 2.7}, "axis": {"title": null, "grid": false, "labelAngle": -45, "labelFontSize": 6.5, "labelColor": "#bbb", "labelPadding": 2, "labelOverlap": false, "tickColor": "#999", "tickSize": 4, "domainColor": "#999", "domainWidth": 1.5, "labelExpr": "utcFormat(toDate(datum.value), '%b %d')", "values": ["2023-11-25","2023-12-09","2023-12-23","2024-01-06","2024-01-20","2024-02-03","2024-02-17","2024-03-02","2024-03-16","2024-03-30","2024-04-13","2024-04-27","2024-05-11","2024-05-25","2024-06-08","2024-06-22","2024-07-06","2024-07-20","2024-08-03","2024-08-17","2024-08-31","2024-09-14","2024-09-28","2024-10-12","2024-10-26","2024-11-09","2024-11-23"]}},
"y": {"field": "value", "type": "quantitative", "scale": {"domain": [0, 28.76], "nice": false}, "axis": {"values": [0,5,10,15,20,25], "domain": false, "ticks": false, "gridDash": [1.5,2], "gridColor": "#c4c4c4", "labelColor": "#aaa", "labelFontSize": 11, "labelPadding": 6, "title": "Effective concentration, copies/mL", "titleColor": "#bbb", "titleFontSize": 10, "titleFontWeight": "normal", "titlePadding": 8}},
"color": {"field": "region", "type": "nominal", "scale": {"domain": ["West","South","Northeast","Midwest"], "range": ["#7fd6a1","#e8508c","#e6a400","#b36ef2"]}, "legend": {"title": null, "orient": "none", "legendX": 301, "legendY": 4, "symbolType": "M-1.6,0H1.6", "symbolSize": 256, "symbolStrokeWidth": 2.5, "symbolOffset": 7, "labelOffset": 11, "labelFontSize": 12.5, "labelColor": "#333", "rowPadding": 1, "padding": 2, "fillColor": "white", "strokeColor": "#dcdcdc", "cornerRadius": 3}}
}
},
{
"width": 404, "height": 345,
"data": {"name": "rsv"},
"title": {"text": "RSV", "orient": "bottom", "offset": 40, "fontSize": 14, "fontWeight": "bold", "color": "#111"},
"mark": {"type": "line", "interpolate": "cardinal", "tension": 0.2, "strokeWidth": 2, "point": {"filled": true, "size": 14}},
"encoding": {
"x": {"field": "date", "type": "ordinal", "scale": {"type": "point", "padding": 2.5}, "axis": {"title": null, "grid": false, "labelAngle": -45, "labelFontSize": 6.5, "labelColor": "#bbb", "labelPadding": 2, "labelOverlap": false, "tickColor": "#999", "tickSize": 4, "domainColor": "#999", "domainWidth": 1.5, "labelExpr": "utcFormat(toDate(datum.value), '%b %d')", "values": ["2023-11-25","2023-12-09","2023-12-23","2024-01-06","2024-01-20","2024-02-03","2024-02-17","2024-03-02","2024-03-16","2024-03-30","2024-04-13","2024-04-27","2024-05-11","2024-05-25","2024-06-08","2024-06-22","2024-07-06","2024-07-20","2024-08-03","2024-08-17","2024-08-31","2024-09-14","2024-09-28","2024-10-12","2024-10-26","2024-11-09","2024-11-23"]}},
"y": {"field": "value", "type": "quantitative", "scale": {"domain": [0, 57.3], "nice": false}, "axis": {"values": [0,10,20,30,40,50], "domain": false, "ticks": false, "gridDash": [1.5,2], "gridColor": "#c4c4c4", "labelColor": "#aaa", "labelFontSize": 11, "labelPadding": 6, "title": "Effective concentration, copies/mL", "titleColor": "#bbb", "titleFontSize": 10, "titleFontWeight": "normal", "titlePadding": 8}},
"color": {"field": "region", "type": "nominal", "scale": {"domain": ["Midwest","South","West","Northeast"], "range": ["#b36ef2","#e8508c","#7fd6a1","#e6a400"]}, "legend": {"title": null, "orient": "none", "legendX": 301, "legendY": 29, "symbolType": "M-1.6,0H1.6", "symbolSize": 256, "symbolStrokeWidth": 2.5, "symbolOffset": 7, "labelOffset": 11, "labelFontSize": 12.5, "labelColor": "#333", "rowPadding": 1, "padding": 2, "fillColor": "white", "strokeColor": "#dcdcdc", "cornerRadius": 3}}
}
},
{
"width": 387, "height": 348,
"data": {"name": "covid"},
"title": {"text": "COVID-19", "orient": "bottom", "offset": 39, "fontSize": 14, "fontWeight": "bold", "color": "#111"},
"mark": {"type": "line", "interpolate": "cardinal", "tension": 0.2, "strokeWidth": 2, "point": {"filled": true, "size": 14}},
"encoding": {
"x": {"field": "date", "type": "ordinal", "scale": {"type": "point", "padding": 3}, "axis": {"title": null, "grid": false, "labelAngle": -45, "labelFontSize": 6.5, "labelColor": "#bbb", "labelPadding": 2, "labelOverlap": false, "tickColor": "#999", "tickSize": 4, "domainColor": "#999", "domainWidth": 1.5, "labelExpr": "utcFormat(toDate(datum.value), '%b %d')", "values": ["2023-11-11","2023-11-25","2023-12-09","2023-12-23","2024-01-06","2024-01-20","2024-02-03","2024-02-17","2024-03-02","2024-03-16","2024-03-30","2024-04-13","2024-04-27","2024-05-11","2024-05-25","2024-06-08","2024-06-22","2024-07-06","2024-07-20","2024-08-03","2024-08-17","2024-08-31","2024-09-14","2024-09-28","2024-10-12","2024-10-26","2024-11-09","2024-11-23"]}},
"y": {"field": "value", "type": "quantitative", "scale": {"domain": [0, 2023], "nice": false}, "axis": {"values": [0,250,500,750,1000,1250,1500,1750,2000], "format": "d", "domain": false, "ticks": false, "gridDash": [1.5,2], "gridColor": "#c4c4c4", "labelColor": "#999", "labelFontSize": 12, "labelPadding": 6, "title": "Effective concentration, copies/mL", "titleColor": "#bbb", "titleFontSize": 10.5, "titleFontWeight": "normal", "titlePadding": 8}},
"color": {"field": "region", "type": "nominal", "scale": {"domain": ["Midwest","South","Northeast","West"], "range": ["#b36ef2","#e8508c","#e6a400","#7fd6a1"]}, "legend": {"title": null, "orient": "none", "legendX": 270, "legendY": 5, "symbolType": "M-1.5,0H1.5", "symbolSize": 289, "symbolStrokeWidth": 2.5, "symbolOffset": 7.5, "labelOffset": 13, "labelFontSize": 13, "labelColor": "#333", "rowPadding": 1, "padding": 2, "fillColor": "white", "strokeColor": "#dcdcdc", "cornerRadius": 3}}
}
}
]
}
